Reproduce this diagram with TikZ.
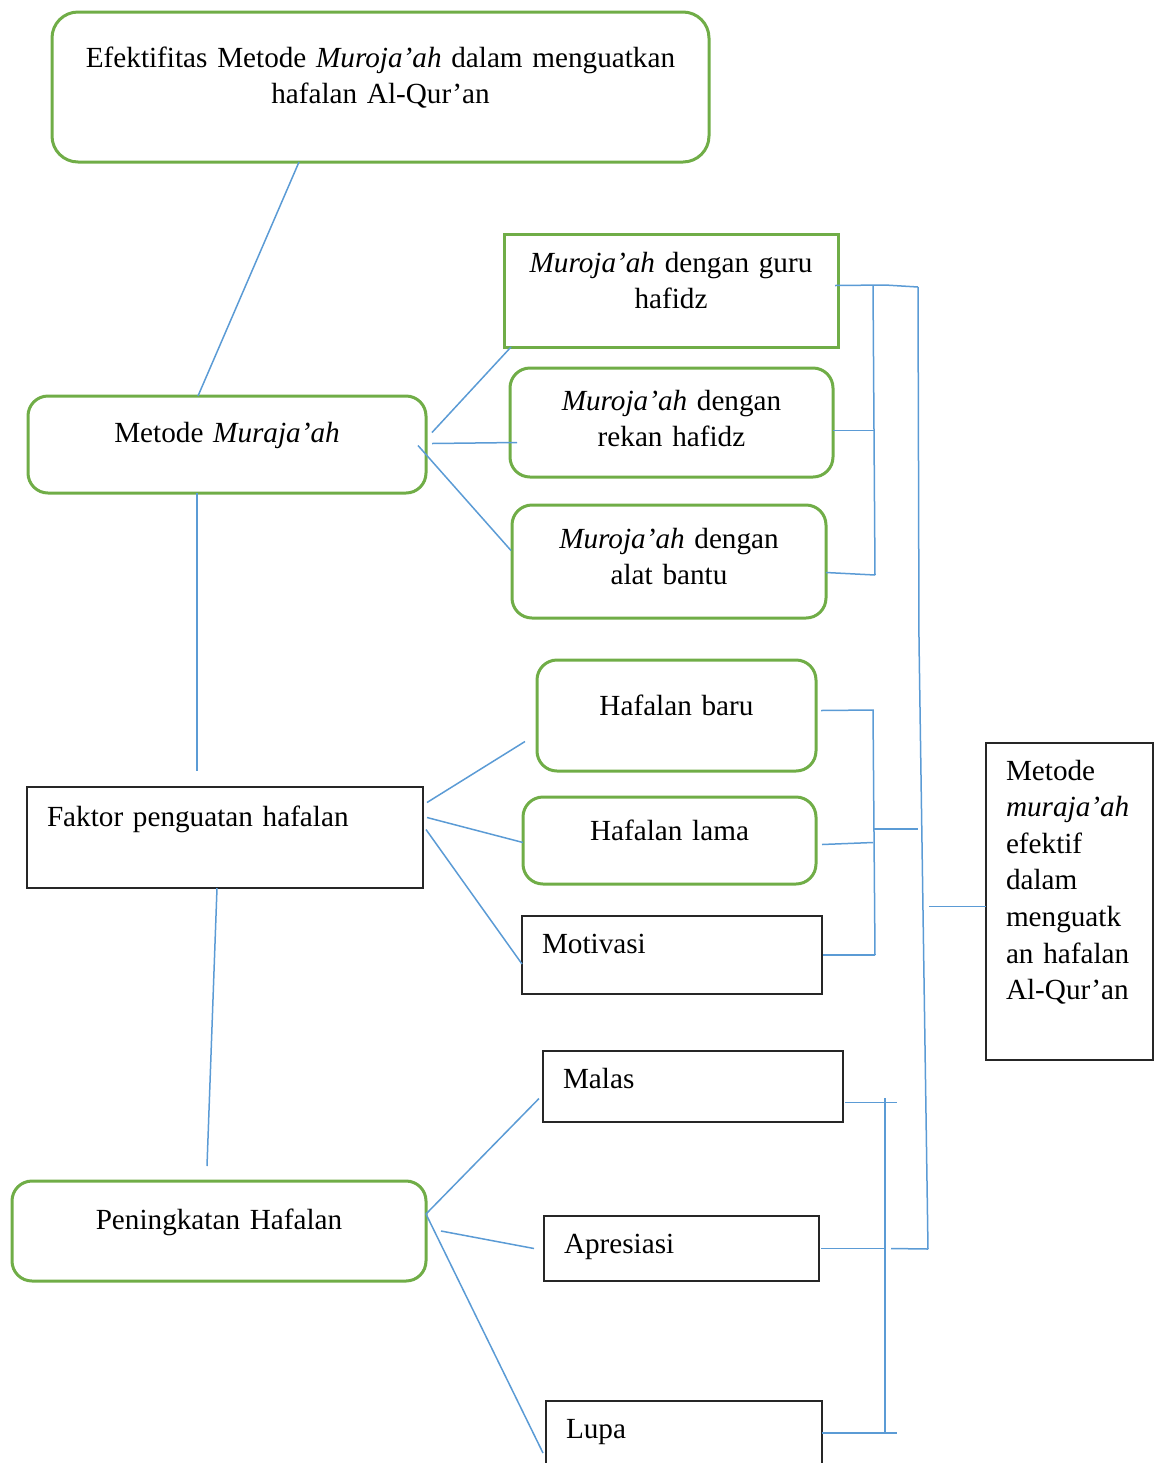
\documentclass[tikz,border=0pt]{standalone}
\usepackage{fontspec}
\setmainfont{Liberation Serif}
\usetikzlibrary{calc}
\definecolor{boxgreen}{HTML}{70AD47}
\definecolor{linkblue}{HTML}{5B9BD5}

\begin{document}
\begin{tikzpicture}[x=0.5pt,y=-0.5pt,
  every node/.style={inner sep=0pt, outer sep=0pt, anchor=base west, font=\fontsize{14.6}{18.3}\selectfont},
  greenbox/.style={draw=boxgreen, line width=1.5pt, rounded corners=10pt, align=center},
  greenrect/.style={draw=boxgreen, line width=1.5pt, align=center},
  blackbox/.style={draw=black!85, line width=0.7pt, inner xsep=10pt, align=left},
  link/.style={color=linkblue, line width=0.75pt}]
\useasboundingbox (0,0) rectangle (1154,1463);
\clip (0,0) rectangle (1154,1463);

\node[greenbox, rounded corners=13pt, text width=328.5pt, text height=27.5pt, text depth=47.5pt] (judul) at (52,67) {Efektifitas Metode \textit{Muroja’ah} dalam menguatkan\\ hafalan Al-Qur’an};
\node[greenrect, text width=167pt, text height=19pt, text depth=37.5pt] (guru) at (504,272) {\textit{Muroja’ah} dengan guru\\ hafidz};
\node[greenbox, text width=161.5pt, text height=21pt, text depth=33.5pt] (rekan) at (510,410) {\textit{Muroja’ah} dengan\\ rekan hafidz};
\node[greenbox, text width=157pt, text height=21.5pt, text depth=35pt] (alat) at (512,548) {\textit{Muroja’ah} dengan\\ alat bantu};
\node[greenbox, text width=199pt, text height=23pt, text depth=25.5pt] (metode) at (28,442) {Metode \textit{Muraja’ah}};
\node[greenbox, text width=139.5pt, text height=27.5pt, text depth=28pt] (baru) at (537,715) {Hafalan baru};
\node[greenbox, text width=146.5pt, text height=21.5pt, text depth=22pt] (lama) at (523,840) {Hafalan lama};
\node[blackbox, text width=130pt, text height=18.5pt, text depth=20.5pt] (motivasi) at (522,953) {Motivasi};
\node[blackbox, text width=178pt, text height=19.5pt, text depth=31pt] (faktor) at (27,826) {Faktor penguatan hafalan};
\node[greenbox, text width=207pt, text height=24pt, text depth=26pt] (naik) at (12,1229) {Peningkatan Hafalan};
\node[blackbox, text width=130pt, text height=18.5pt, text depth=17pt] (malas) at (543,1088) {Malas};
\node[blackbox, text width=117.5pt, text height=18.5pt, text depth=14pt] (apresiasi) at (544,1253) {Apresiasi};
\node[blackbox, text width=118pt, text height=18.5pt, text depth=25pt] (lupa) at (546,1438) {Lupa};
\node[blackbox, text width=63.5pt, text height=18.5pt, text depth=140pt] (hasil) at (986,780) {Metode\\ \textit{muraja’ah}\\ efektif\\ dalam\\ menguatk\\ an hafalan\\ Al-Qur’an};

\coordinate (r0) at (885,285);
\coordinate (r1) at (873,285);
\coordinate (r2) at (875,575);
\coordinate (t1) at (918,287);
\coordinate (t2) at (919,640);
\coordinate (t3) at (928,1249);
\coordinate (s1) at (873,710);
\coordinate (s2) at (875,955);
\coordinate (s3) at (874,829);
\coordinate (u1) at (885,1098);
\coordinate (u2) at (885,1433);

\draw[link] ($(judul.south west)+(247,0)$) -- ($(metode.north west)+(170,0)$);
\draw[link] ($(metode.south west)+(169,0)$) -- ($(faktor.north west)+(170,-16)$);
\draw[link] ($(faktor.south west)+(190,0)$) -- ($(naik.north west)+(195,-15)$);

\draw[link] ($(metode.east)+(6,-12)$) -- ($(guru.south west)+(7,0)$);
\draw[link] ($(metode.east)+(6,-1)$) -- ($(rekan.west)+(7,20)$);
\draw[link] ($(metode.east)+(-8,1)$) -- ($(alat.west)+(-1,-11)$);
\draw[link] ($(faktor.east)+(4,-35)$) -- ($(baru.west)+(-12,26)$);
\draw[link] ($(faktor.east)+(4,-20)$) -- ($(lama.west)+(0,2)$);
\draw[link] ($(faktor.east)+(3,-8)$) -- ($(motivasi.west)+(0,9)$);
\draw[link] ($(naik.east)+(0,-17)$) -- ($(malas.west)+(-4,12)$);
\draw[link] ($(naik.east)+(15,0)$) -- ($(apresiasi.west)+(-10,0)$);
\draw[link] ($(naik.east)+(0,-17)$) -- ($(lupa.north west)+(-3,52)$);

\draw[link] ($(guru.east)+(-3,-5)$) -- (r0) -- (t1);
\draw[link] (r1) -- (r2);
\draw[link] ($(rekan.east)+(0,8)$) -- ++(42,0);
\draw[link] ($(alat.east)+(0,11)$) -- (r2);
\draw[link] (t1) -- (t2) -- (t3);

\draw[link] ($(baru.east)+(5,-5)$) -- (s1) -- (s2);
\draw[link] ($(lama.east)+(6,4)$) -- ++(51,-2);
\draw[link] ($(motivasi.east)+(1,0)$) -- (s2);
\draw[link] (s3) -- ++(44,0);

\draw[link] ($(malas.east)+(2,16)$) -- ++(52,0);
\draw[link] (u1) -- (u2);
\draw[link] ($(apresiasi.east)+(2,0)$) -- (u1 |- apresiasi.east);
\draw[link] ($(u1 |- apresiasi.east)+(6,0)$) -- (t3);
\draw[link] ($(lupa.north east)+(0,32)$) -- ++(75,0);
\draw[link] ($(hasil.west)+(-57,5)$) -- ($(hasil.west)+(0,5)$);
\end{tikzpicture}
\end{document}
